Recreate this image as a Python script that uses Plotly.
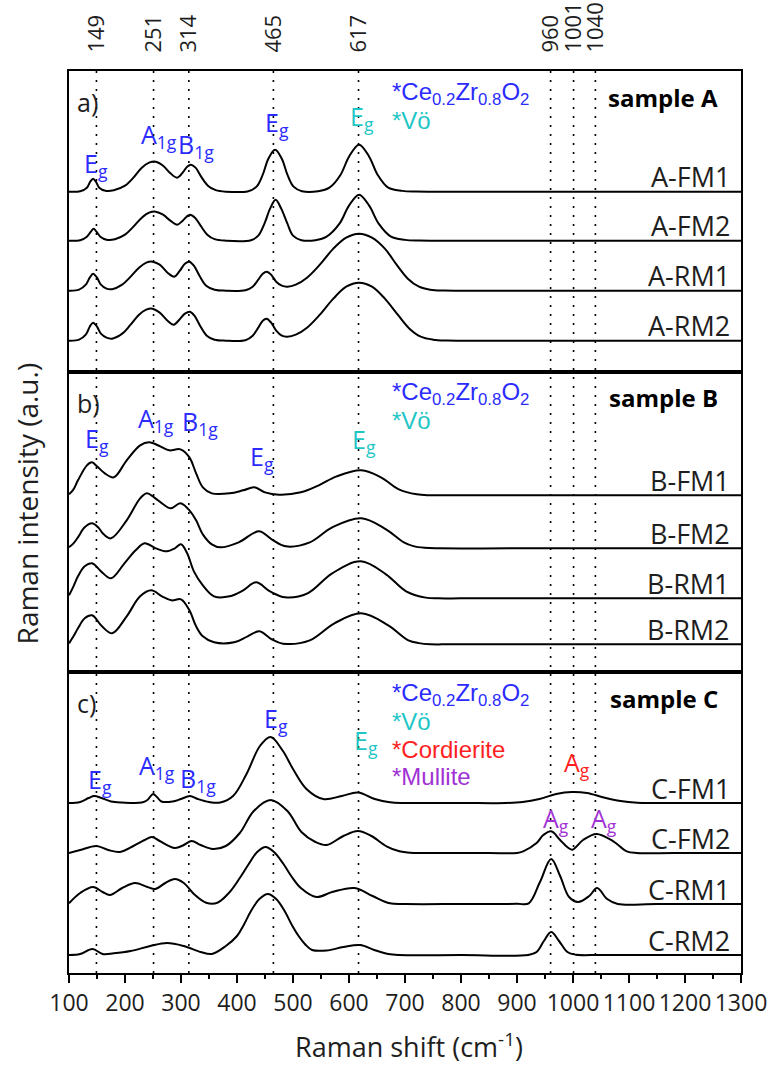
import plotly.graph_objects as go
from plotly.subplots import make_subplots

# ---------------- data ----------------
x_range = [100, 1300]
x_ticks = list(range(100, 1301, 100))
peak_positions = [149, 251, 314, 465, 617, 960, 1001, 1040]
peak_labels = [str(p) for p in peak_positions]

# Raman shift (cm-1) / intensity (a.u.) samples for every spectrum
A_FM1_x = [100,120,132,138,143,148,154,165,180,200,215,230,243,255,268,280,293,303,311,318,326,336,348,362,380,420,435,446,456,468,480,490,501,516,545,565,585,600,618,636,651,670,695,720,760,900,1300]
A_FM1_y = [0,0.5,4,10,13,10,4,1,1.5,6,14,24,29,30,26,19,14,19,25,27,24,15,6,1.5,0,0.5,5,17,33,42,33,17,5,0.5,0.5,4,17,35,47,35,17,4,0.8,0.1,0,0,0]

A_FM2_x = [100,120,132,139,144,149,156,167,182,200,215,230,243,255,268,281,293,303,310,316,325,335,347,360,380,425,438,449,459,469,479,490,500,515,540,560,583,600,618,636,653,675,700,725,765,900,1300]
A_FM2_y = [0,0.5,4,9,12,9,4,1,1.5,6,14,23,28,29,26,20,16,20,24,26,23,15,6,1.5,0,0.5,5,17,32,41,32,17,5,0.5,0.5,4,17,35,46,35,17,4,0.8,0.1,0,0,0]

A_RM1_x = [100,118,130,137,143,150,157,167,177,195,210,225,238,249,262,276,288,298,307,315,323,333,345,360,380,415,428,438,446,453,461,470,480,490,505,525,548,572,595,618,641,664,685,705,725,745,770,810,950,1300]
A_RM1_y = [0,1,6,13,17,13,6,2,1.5,6,14,23,28,29,26,18,14,20,27,29,25,15,5,1,0,0.5,4,11,17,19,16,9,5,4,6,13,26,42,53,57,53,42,26,12,4,1,0.1,0,0,0]

A_RM2_x = [100,118,130,137,143,150,157,167,177,195,210,225,238,249,262,276,287,297,307,316,324,334,346,360,380,415,428,438,446,453,461,470,480,490,505,525,548,572,595,618,641,664,687,708,728,750,775,815,950,1300]
A_RM2_y = [0,1,6,14,18,14,7,3,2,7,16,26,31,32,28,20,16,21,27,29,25,15,5,1,0,0.5,5,13,20,22,18,10,5,4,6,13,26,42,54,58,54,42,26,12,4,1,0.1,0,0,0]

B_FM1_x = [100,108,116,132,141,150,164,180,203,227,243,263,279,299,315,327,339,355,387,411,431,450,475,514,546,578,622,657,689,721,745,780,900,1300]
B_FM1_y = [1,6,15,30,33,29,22,18,35,50,53,49,45,46,38,22,8,2,2,5,8,3,0.7,3,10,19,25,18,6,1,0.1,0,0,0]

B_FM2_x = [100,108,116,128,141,152,162,175,203,227,239,252,266,282,299,315,327,339,355,371,403,439,462,487,530,570,622,666,698,715,735,760,900,1300]
B_FM2_y = [1,5,11,21,25,21,14,10,28,50,55,51,45,40,45,38,28,14,4,1,6,17,9,2,6,21,30,19,6,2.2,0.5,0,0,0]

B_RM1_x = [100,108,116,128,141,159,175,199,219,235,255,275,289,300,311,323,339,359,387,411,434,459,486,526,570,621,666,702,737,760,800,950,1300]
B_RM1_y = [3,12,22,32,35,26,20,35,48,55,50,47,50,54,45,27,13,2,2,8,16,7,1,5,25,37,24,7,0.7,0,0,0,0]

B_RM2_x = [100,108,116,128,141,159,177,203,227,247,266,283,300,315,327,339,359,395,419,440,462,482,530,574,622,670,706,725,745,780,950,1300]
B_RM2_y = [1,8,16,26,29,18,11,28,48,54,48,44,45,34,18,8,2,2,8,13,5,0.7,4,21,31,19,4,1.2,0.1,0,0,0]

C_FM1_x = [100,120,135,145,158,175,195,230,240,250,257,265,285,300,316,330,350,370,393,417,441,460,482,500,524,554,587,616,646,673,700,800,880,910,940,970,998,1025,1055,1085,1115,1140,1200,1300]
C_FM1_y = [0,1,5,7,5,1.5,0.5,0.5,3,9,6,1.5,1.5,4,7,4,1,0.5,7,29,57,66,52,34,14,4,7,10.5,4,0.7,0,0,0,1,4,9,11,10,5.5,2,0.3,0,0,0]

C_FM2_x = [100,120,149,170,191,215,235,248,262,289,305,319,335,357,380,405,430,460,490,515,540,560,590,616,640,667,690,710,750,850,900,911,935,947,961,977,992,999,1018,1042,1072,1096,1114,1180,1300]
C_FM2_y = [0,3,7,3,1,7,13,16,12,5,8,12,8,4,7,20,42,53,42,21,11,8,17,22,17,6.7,1.7,0.3,0,0,0,1.7,10,18,21.7,13,5,3.3,13,19,11.7,1.7,0,0,0]

C_RM1_x = [100,120,143,160,173,195,218,240,254,272,289,305,325,345,365,387,405,421,436,451,466,483,498,514,542,570,610,642,673,700,800,900,921,941,961,977,993,1009,1029,1043,1061,1080,1150,1300]
C_RM1_y = [0.7,11,17,12,9,16,21,17,15,21,25,21,9,1.3,1.3,12,26,40,52,57,52,40,27,16,7,12,16,8,0.7,0,0,0.2,0.7,22,45,28,7,2,8,16,5,0,0,0]

C_RM2_x = [100,120,142,160,180,210,245,275,305,335,355,380,400,412,425,440,455,470,485,498,510,522,534,560,590,620,645,670,690,800,920,935,948,961,975,990,1005,1050,1300]
C_RM2_y = [0,1,6,1,1.7,4,9,12,9,3,1,9,19,30,44,56,61,56,44,30,19,10.5,5,4.5,8,10,5,1,0,0,0,3,14,23,14,3,0.3,0,0]

spectra = {
    "A-FM1": (A_FM1_x, A_FM1_y), "A-FM2": (A_FM2_x, A_FM2_y),
    "A-RM1": (A_RM1_x, A_RM1_y), "A-RM2": (A_RM2_x, A_RM2_y),
    "B-FM1": (B_FM1_x, B_FM1_y), "B-FM2": (B_FM2_x, B_FM2_y),
    "B-RM1": (B_RM1_x, B_RM1_y), "B-RM2": (B_RM2_x, B_RM2_y),
    "C-FM1": (C_FM1_x, C_FM1_y), "C-FM2": (C_FM2_x, C_FM2_y),
    "C-RM1": (C_RM1_x, C_RM1_y), "C-RM2": (C_RM2_x, C_RM2_y),
}
panel_curves = [["A-FM1", "A-FM2", "A-RM1", "A-RM2"],
                ["B-FM1", "B-FM2", "B-RM1", "B-RM2"],
                ["C-FM1", "C-FM2", "C-RM1", "C-RM2"]]
panel_tags = ["a)", "b)", "c)"]
panel_samples = ["sample A", "sample B", "sample C"]

# ---------------- layout / styling ----------------
# vertical stacking offsets of each spectrum inside its panel
stack_offset = {"A-FM1": 180, "A-FM2": 131, "A-RM1": 81, "A-RM2": 31,
                "B-FM1": 177, "B-FM2": 124, "B-RM1": 74, "B-RM2": 28,
                "C-FM1": 170, "C-FM2": 120, "C-RM1": 69, "C-RM2": 18}

W, H = 770, 1066
ML, MR, MT, MB = 69, 29, 71, 93
PH = (H - MT - MB) / 3.0   # panel height (a.u. range of each panel)

BLUE = "#2b2bff"
CYAN = "#1fc6c6"
RED = "#ff1f1f"
PURPLE = "#a132d4"
FONT = "Open Sans"
LEG_FONT = "Liberation Sans"
INK = "#1e1e1e"

fig = make_subplots(rows=3, cols=1, shared_xaxes=True, vertical_spacing=0)

for r, names in enumerate(panel_curves, start=1):
    for name in names:
        xs, ys = spectra[name]
        off = stack_offset[name]
        fig.add_trace(go.Scatter(
            x=xs, y=[v + off for v in ys], mode="lines", name=name,
            line=dict(color="black", width=2, shape="spline", smoothing=1.0),
            showlegend=False, hoverinfo="skip"), row=r, col=1)

frame = dict(showline=True, linecolor="black", linewidth=2, mirror=True,
             showgrid=False, zeroline=False, automargin=False)
for r in (1, 2, 3):
    fig.update_yaxes(range=[0, PH], showticklabels=False, ticks="", **frame, row=r, col=1)
    fig.update_xaxes(range=x_range, **frame, row=r, col=1)

fig.update_xaxes(row=1, col=1, side="top", tickmode="array", tickvals=peak_positions,
                 ticktext=peak_labels, tickangle=-90, ticks="", showticklabels=True,
                 ticklabelstandoff=12, tickfont=dict(family=FONT, size=22, color=INK))
fig.update_xaxes(row=2, col=1, showticklabels=False, ticks="")
fig.update_xaxes(row=3, col=1, tickmode="array", tickvals=x_ticks, ticks="outside",
                 ticklen=8, tickwidth=2, tickcolor="black",
                 minor=dict(ticks="outside", ticklen=4, tickwidth=1.5, dtick=50,
                            tick0=100, tickcolor="black"),
                 tickfont=dict(family=FONT, size=23, color=INK))

# dotted guide lines at the assigned Raman modes
for p in peak_positions:
    fig.add_shape(type="line", xref="x", yref="paper", x0=p, x1=p, y0=0, y1=1,
                  line=dict(color="black", width=1.6, dash="2px,7px"), layer="below")

yrefs = ["y", "y2", "y3"]
ann = []

# panel tag, sample name, phase legend
legend_lines = [
    [("*Ce<sub>0.2</sub>Zr<sub>0.8</sub>O<sub>2</sub>", BLUE), ("*Vö", CYAN)],
    [("*Ce<sub>0.2</sub>Zr<sub>0.8</sub>O<sub>2</sub>", BLUE), ("*Vö", CYAN)],
    [("*Ce<sub>0.2</sub>Zr<sub>0.8</sub>O<sub>2</sub>", BLUE), ("*Vö", CYAN),
     ("*Cordierite", RED), ("*Mullite", PURPLE)],
]
legend_dy = [22, 49, 77, 104]
for i in range(3):
    yr = yrefs[i]
    ann.append(dict(text=panel_tags[i], xref="paper", yref=yr, x=0.009, y=PH - 31,
                    xanchor="left", yanchor="middle", showarrow=False,
                    font=dict(family=FONT, size=25, color=INK)))
    ann.append(dict(text="<b>%s</b>" % panel_samples[i], xref="paper", yref=yr, x=0.969,
                    y=PH - 26, xanchor="right", yanchor="middle", showarrow=False,
                    font=dict(family=FONT, size=24, color="black")))
    for j, (t, c) in enumerate(legend_lines[i]):
        ann.append(dict(text=t, xref="paper", yref=yr, x=0.4777, y=PH - legend_dy[j],
                        xanchor="left", yanchor="middle", showarrow=False,
                        font=dict(family=LEG_FONT, size=24, color=c)))
    for name in panel_curves[i]:
        ann.append(dict(text=name, xref="paper", yref=yr, x=0.9866, y=stack_offset[name] + 15,
                        xanchor="right", yanchor="middle", showarrow=False,
                        font=dict(family=FONT, size=27, color=INK)))

# Raman mode labels: (panel, text, mode position, colour, height, xshift)
EG = "E<sub>g</sub>"
A1G = "A<sub>1g</sub>"
B1G = "B<sub>1g</sub>"
AG = "A<sub>g</sub>"
mode_labels = [
    (0, EG, 149, BLUE, 207, 0), (0, A1G, 251, BLUE, 236, 5), (0, B1G, 314, BLUE, 226, 7),
    (0, EG, 465, BLUE, 248, 4), (0, EG, 617, CYAN, 254, 3),
    (1, EG, 149, BLUE, 233, 1), (1, A1G, 251, BLUE, 253, 2), (1, B1G, 314, BLUE, 250, 11),
    (1, EG, 465, BLUE, 215, -11), (1, EG, 617, CYAN, 232, 5),
    (2, EG, 149, BLUE, 193, 4), (2, A1G, 251, BLUE, 207, 3), (2, B1G, 314, BLUE, 194, 9),
    (2, EG, 465, BLUE, 254, 3), (2, EG, 617, CYAN, 232, 7),
    (2, AG, 1001, RED, 210, 3), (2, AG, 960, PURPLE, 154, 5), (2, AG, 1040, PURPLE, 154, 9),
]
for pi, t, xm, c, yy, xs in mode_labels:
    ann.append(dict(text=t, xref="x", yref=yrefs[pi], x=xm, y=yy, xshift=xs,
                    xanchor="center", yanchor="middle", showarrow=False,
                    font=dict(family=FONT, size=25, color=c)))

# axis titles
ann.append(dict(text="Raman shift (cm<sup>-1</sup>)", xref="paper", yref="paper",
                x=0.506, y=-0.080, xanchor="center", yanchor="middle", showarrow=False,
                font=dict(family=FONT, size=27, color=INK)))
ann.append(dict(text="Raman intensity (a.u.)", xref="paper", yref="paper",
                x=-0.062, y=0.521, xanchor="center", yanchor="middle", textangle=-90,
                showarrow=False, font=dict(family=FONT, size=28, color=INK)))

fig.update_layout(width=W, height=H, margin=dict(l=ML, r=MR, t=MT, b=MB),
                  paper_bgcolor="white", plot_bgcolor="white", annotations=ann,
                  font=dict(family=FONT, color=INK), showlegend=False)

fig.write_html("out.html", config={"displayModeBar": False},
               post_script="document.body.style.margin='0';")
